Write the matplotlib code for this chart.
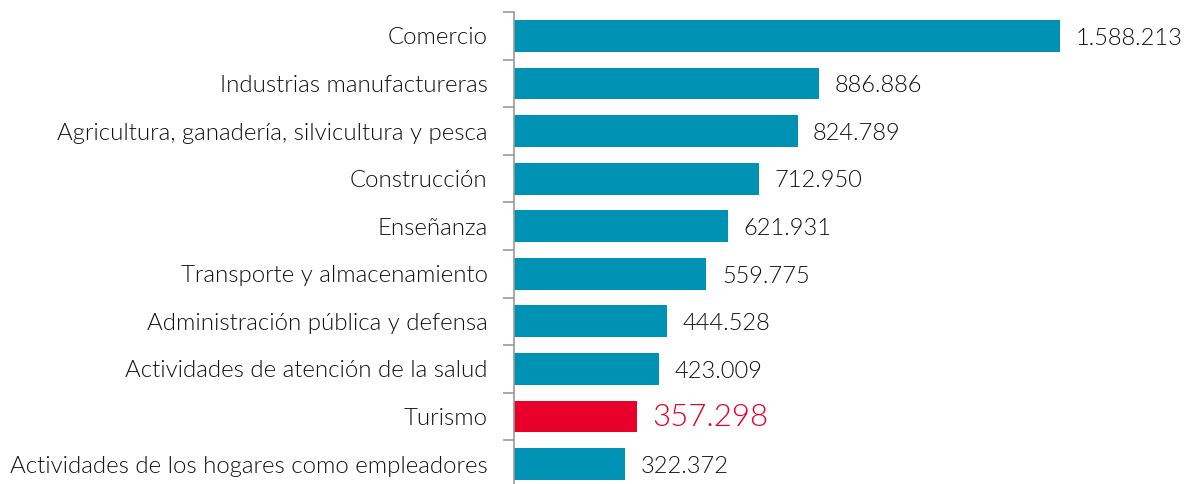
import matplotlib
matplotlib.use("Agg")
import matplotlib.pyplot as plt
import numpy as np

categories = [
    "Comercio",
    "Industrias manufactureras",
    "Agricultura, ganadería, silvicultura y pesca",
    "Construcción",
    "Enseñanza",
    "Transporte y almacenamiento",
    "Administración pública y defensa",
    "Actividades de atención de la salud",
    "Turismo",
    "Actividades de los hogares como empleadores",
]
values = [1588213, 886886, 824789, 712950, 621931, 559775, 444528, 423009, 357298, 322372]
highlight = "Turismo"

teal = "#0092B4"
red = "#E8002B"
ink = "#111111"
weight = 300

plt.rcParams["font.family"] = ["Lato", "DejaVu Sans"]

W, H = 1189, 484
fig = plt.figure(figsize=(W / 100, H / 100), dpi=100)
ax = fig.add_axes([514 / W, -0.008, (W - 514) / W, 0.983])

n = len(categories)
y = np.arange(n)
colors = [red if c == highlight else teal for c in categories]
ax.barh(y, values, height=0.67, color=colors)
ax.set_ylim(n - 0.5, -0.5)
ax.set_xlim(0, 1588213 * (W - 514) / 546)

def fmt(v):
    return f"{v:,}".replace(",", ".")

for yi, v, c in zip(y, values, categories):
    if c == highlight:
        ax.text(v + 45000, yi + 0.02, fmt(v), va="center", ha="left", fontsize=22.5,
                color=red, fontweight=weight)
    else:
        ax.text(v + 45000, yi + 0.05, fmt(v), va="center", ha="left", fontsize=17,
                color=ink, fontweight=weight)

ax.set_yticks(y)
ax.set_yticklabels(categories, fontsize=17.3, fontweight=weight, color=ink)
ax.tick_params(axis="y", which="major", length=0, pad=19)
ax.set_yticks(np.arange(-0.5, n, 1), minor=True)
ax.tick_params(axis="y", which="minor", length=8, color="#999999", width=1.2)
ax.set_xticks([])
for s in ["top", "right", "bottom"]:
    ax.spines[s].set_visible(False)
ax.spines["left"].set_color("#999999")
ax.spines["left"].set_linewidth(1.2)

fig.savefig("out.png", dpi=100)
